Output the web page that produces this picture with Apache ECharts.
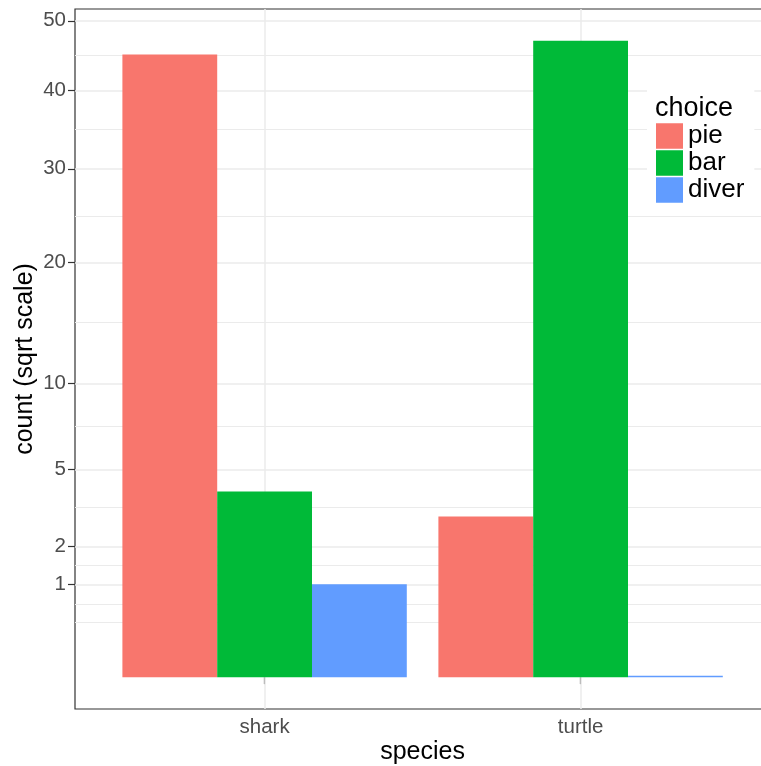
<!DOCTYPE html>
<html>
<head>
<meta charset="utf-8">
<script src="https://cdn.jsdelivr.net/npm/echarts@6/dist/echarts.min.js"></script>
<style>
html,body{margin:0;padding:0;background:#fff;}
#chart{width:761px;height:766px;}
</style>
</head>
<body>
<div id="chart"></div>
<script>
const categories = ['shark', 'turtle'];
const seriesNames = ['pie', 'bar', 'diver'];
const pieCounts = [45, 3];
const barCounts = [4, 47];
const diverCounts = [1, 0];
const yTickValues = [1, 2, 5, 10, 20, 30, 40, 50];
const colors = ['#F8766D', '#00BA38', '#619CFF'];

const FONT = "'Liberation Sans', Arial, sans-serif";
const sq = Math.sqrt;
const seriesValues = [pieCounts, barCounts, diverCounts];

// sqrt-space axis limits with ggplot-style 5% expansion
const topS = sq(Math.max(...pieCounts, ...barCounts, ...diverCounts));
const pad = 0.05 * topS;
const yMin = -pad, yMax = topS + pad;

const tickS = yTickValues.map(sq);
// ggplot regular minor breaks in transformed space
const ext = [tickS[0] - (tickS[1] - tickS[0])].concat(tickS, [tickS[tickS.length - 1] + (tickS[1] - tickS[0])]);
const minorS = [];
for (let i = 0; i < ext.length - 1; i++) {
  minorS.push(ext[i]);
  minorS.push((ext[i] + ext[i + 1]) / 2);
}
const minorFiltered = minorS.filter(v => v > yMin && v < yMax && !tickS.some(t => Math.abs(t - v) < 1e-9));

const chart = echarts.init(document.getElementById('chart'), null, {renderer: 'canvas'});

const gridLine = (data, width) => ({
  silent: true,
  z: 1,
  symbol: ['none', 'none'],
  label: {show: false},
  emphasis: {disabled: true},
  lineStyle: {color: '#EBEBEB', width: width, type: 'solid'},
  animation: false,
  data: data
});

const barSeries = seriesNames.map((name, i) => ({
  name: name,
  type: 'bar',
  xAxisIndex: 1,
  yAxisIndex: 1,
  data: seriesValues[i].map(sq),
  barGap: '0%',
  barCategoryGap: '10%',
  barMinHeight: i === 2 ? 1.5 : 0,
  itemStyle: {color: colors[i]},
  emphasis: {disabled: true},
  z: 3
}));

chart.setOption({
  animation: false,
  backgroundColor: '#fff',
  textStyle: {fontFamily: FONT},
  title: {
    text: 'choice',
    left: 655,
    top: 95,
    padding: 0,
    z: 10,
    textStyle: {fontFamily: FONT, fontSize: 27, fontWeight: 'normal', color: '#000', lineHeight: 27}
  },
  legend: {
    data: seriesNames,
    orient: 'vertical',
    left: 647,
    top: 86,
    z: 8,
    padding: [37, 10, 10, 9],
    backgroundColor: '#fff',
    itemWidth: 27,
    itemHeight: 25.5,
    itemGap: 1,
    icon: 'rect',
    selectedMode: false,
    textStyle: {fontFamily: FONT, fontSize: 26, color: '#000', lineHeight: 25}
  },
  grid: [
    {left: 75, top: 9, width: 695, height: 700, show: true, borderColor: '#333', borderWidth: 1.2, backgroundColor: '#fff',
      containLabel: false, outerBoundsMode: 'none'},
    {left: 106.6, top: 9, width: 632, height: 700, containLabel: false, outerBoundsMode: 'none'}
  ],
  xAxis: [
    {gridIndex: 0, type: 'value', min: 0, max: 1, show: false},
    {
      gridIndex: 1, type: 'category', data: categories,
      axisLine: {show: false},
      axisTick: {show: true, alignWithLabel: true, length: 7, lineStyle: {color: '#333', width: 1.2}},
      axisLabel: {fontFamily: FONT, fontSize: 20.5, color: '#4D4D4D', margin: 8},
      splitLine: {show: false},
      name: 'species', nameLocation: 'middle', nameGap: 31, nameMoveOverlap: false,
      nameTextStyle: {fontFamily: FONT, fontSize: 25, color: '#000'}
    }
  ],
  yAxis: [
    {
      gridIndex: 0, type: 'value', min: yMin, max: yMax,
      axisLine: {show: false},
      axisTick: {show: true, customValues: tickS, length: 7, lineStyle: {color: '#333', width: 1.2}},
      axisLabel: {customValues: tickS, fontFamily: FONT, fontSize: 20.5, color: '#4D4D4D', margin: 9,
        formatter: v => String(Math.round(v * v))},
      splitLine: {show: false},
      name: 'count (sqrt scale)', nameLocation: 'middle', nameGap: 37, nameMoveOverlap: false,
      nameTextStyle: {fontFamily: FONT, fontSize: 25, color: '#000'}
    },
    {gridIndex: 1, type: 'value', min: yMin, max: yMax, show: false}
  ],
  series: [
    {type: 'line', xAxisIndex: 0, yAxisIndex: 0, data: [], z: 1, silent: true,
      markLine: gridLine(minorFiltered.map(v => ({yAxis: v})), 1.1)},
    {type: 'line', xAxisIndex: 0, yAxisIndex: 0, data: [], z: 1, silent: true,
      markLine: gridLine(tickS.map(v => ({yAxis: v})), 1.5)},
    {type: 'line', xAxisIndex: 1, yAxisIndex: 1, data: [], z: 1, silent: true,
      markLine: gridLine(categories.map(c => ({xAxis: c})), 1.5)}
  ].concat(barSeries)
});
</script>
</body>
</html>
